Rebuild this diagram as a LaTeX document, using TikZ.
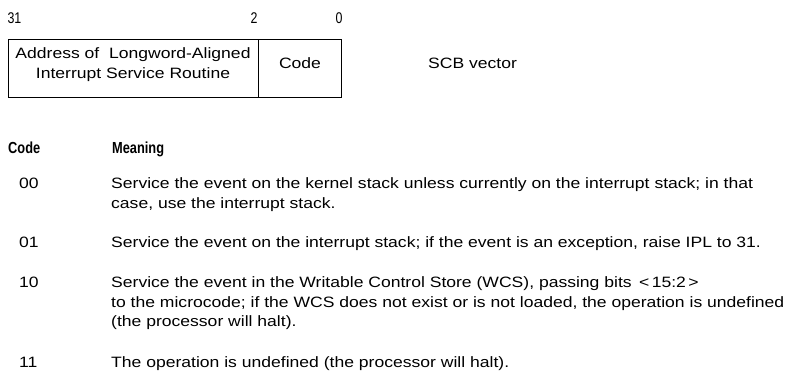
\documentclass[tikz,border=0pt]{standalone}
\usepackage{fontspec}
\setmainfont{Liberation Sans}
% body text runs wide, headings and bit numbers narrow
\newfontfamily\bodyfont[FakeStretch=1.17]{Liberation Sans}
\newfontfamily\headfont[FakeStretch=0.8]{Liberation Sans}
\newfontfamily\bitfont[FakeStretch=0.8]{Liberation Sans}
\begin{document}
\begin{tikzpicture}[x=1pt,y=-1pt,
  txt/.style={anchor=base west,inner sep=0pt,font=\bodyfont\fontsize{15}{18}\selectfont},
  bitnum/.style={anchor=base,inner sep=0pt,font=\bitfont\fontsize{15.5}{18}\selectfont},
  hdr/.style={anchor=base west,inner sep=0pt,font=\headfont\fontsize{16}{19}\selectfont\bfseries},
  fieldline/.style={draw,line width=1pt}]
\useasboundingbox (0,0) rectangle (786,388);
% bit numbers
\node[bitnum] (b31) at (14.5,23) {31};
\node[bitnum] (b2) at (254,23) {2};
\node[bitnum] (b0) at (339,23) {0};
% longword layout
\draw[fieldline] (8,39) rectangle (341,97);
\draw[fieldline] (258,39) -- (258,97);
\node[txt,anchor=base] (addr1) at (133,58) {Address of\ \ Longword-Aligned};
\node[txt,anchor=base] (addr2) at (133,78) {Interrupt Service Routine};
\node[txt,anchor=base] (code) at (300,68) {Code};
\node[txt] (scb) at (428,68) {SCB vector};
% table heading
\node[hdr] (hcode) at (8,153) {Code};
\node[hdr] (hmean) at (112,153) {Meaning};
% rows
\node[txt] (c00) at (19,188) {00};
\node[txt] (m00a) at (111,188) {Service the event on the kernel stack unless currently on the interrupt stack; in that};
\node[txt] (m00b) at (111,208) {case, use the interrupt stack.};
\node[txt] (c01) at (19,247) {01};
\node[txt] (m01) at (111,247) {Service the event on the interrupt stack; if the event is an exception, raise IPL to 31.};
\node[txt] (c10) at (19,287) {10};
\node[txt] (m10a) at (111,287) {Service the event in the Writable Control Store (WCS), passing bits \,<\,15:2\,>};
\node[txt] (m10b) at (111,307) {to the microcode; if the WCS does not exist or is not loaded, the operation is undefined};
\node[txt] (m10c) at (111,326) {(the processor will halt).};
\node[txt] (c11) at (19,367) {11};
\node[txt] (m11) at (111,367) {The operation is undefined (the processor will halt).};
\end{tikzpicture}
\end{document}
